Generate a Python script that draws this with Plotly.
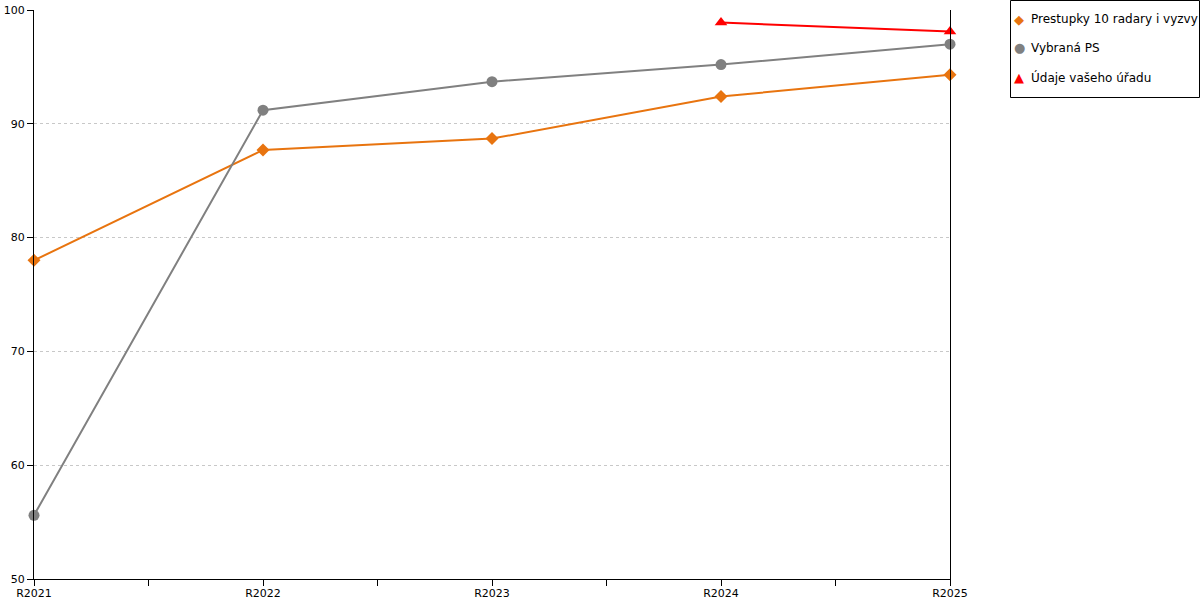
import plotly.graph_objects as go

categories = ["R2021", "R2022", "R2023", "R2024", "R2025"]
prestupky = [78.0, 87.7, 88.7, 92.4, 94.3]
vybrana_ps = [55.6, 91.2, 93.7, 95.2, 97.0]
udaje_uradu = [None, None, None, 98.9, 98.1]

names = ["Prestupky 10 radary i vyzvy", "Vybraná PS", "Údaje vašeho úřadu"]
colors = ["#E8740F", "#808080", "#FF0000"]
symbols = ["diamond", "circle", "triangle-up"]
legend_glyphs = ["◆", "●", "▲"]

xs = list(range(len(categories)))
FONT = "DejaVu Sans"

W, H = 1200, 600
L, R, T, B = 34, 950, 10, 579

def px(x):
    return (x - L) / (R - L)

def py(y):
    return (B - y) / (B - T)

fig = go.Figure()
for vals, name, col, sym, size in zip(
        [prestupky, vybrana_ps, udaje_uradu], names, colors, symbols, [10, 11, 11]):
    fig.add_trace(go.Scatter(
        x=xs, y=vals, name=name, mode="lines+markers",
        line=dict(color=col, width=2),
        marker=dict(symbol=sym, size=size, color=col),
        cliponaxis=False, showlegend=False,
    ))

fig.update_layout(
    width=W, height=H,
    margin=dict(l=L, r=W - R, t=T, b=H - B, autoexpand=False),
    plot_bgcolor="white", paper_bgcolor="white",
    font=dict(family=FONT, size=11, color="black"),
    xaxis=dict(
        range=[0, len(categories) - 1], automargin=False,
        tickmode="array", tickvals=xs, ticktext=categories,
        ticks="outside", ticklen=6, tickcolor="black", tickwidth=1,
        ticklabelstandoff=-2,
        showline=True, linecolor="black", linewidth=1,
        showgrid=False, zeroline=False,
        minor=dict(dtick=0.5, ticks="outside", ticklen=6, tickcolor="black", showgrid=False),
        tickfont=dict(size=11, family=FONT),
    ),
    yaxis=dict(
        range=[50, 100], dtick=10, automargin=False,
        ticks="outside", ticklen=6, tickcolor="black",
        showline=True, mirror=True, linecolor="black", linewidth=1,
        showgrid=True, gridcolor="#C8C8C8", gridwidth=1, griddash="3px,3px",
        zeroline=False,
        tickfont=dict(size=11, family=FONT),
    ),
    shapes=[
        dict(type="rect", xref="paper", yref="paper",
             x0=px(1010.5), x1=px(1199.5), y0=py(97.5), y1=py(0.5),
             line=dict(color="black", width=1), fillcolor="white", layer="above"),
    ],
)

ann = []
for i, (name, col, g) in enumerate(zip(names, colors, legend_glyphs)):
    yc = 19 + 29 * i
    ann.append(dict(xref="paper", yref="paper", x=px(1019), y=py(yc), text=g,
                    showarrow=False, xanchor="center", yanchor="middle",
                    font=dict(color=col, size=13, family=FONT)))
    ann.append(dict(xref="paper", yref="paper", x=px(1029), y=py(yc), text=name,
                    showarrow=False, xanchor="left", yanchor="middle",
                    font=dict(color="black", size=12, family=FONT)))
fig.update_layout(annotations=ann)

fig.write_html("out.html", config={"displayModeBar": False},
               post_script="document.body.style.margin='0';")
